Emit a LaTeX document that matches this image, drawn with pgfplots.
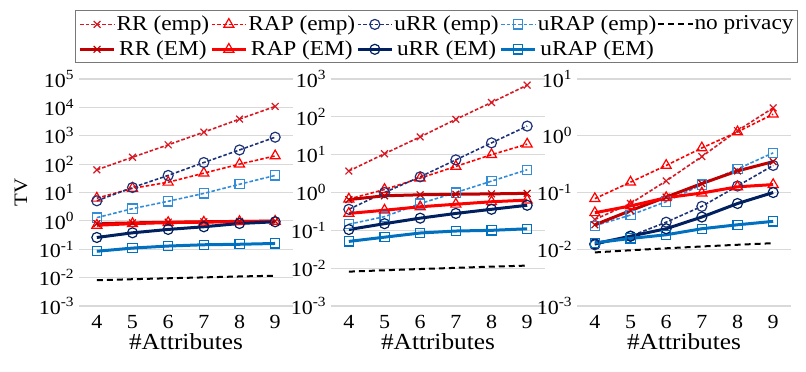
\documentclass[border=0pt]{standalone}
\usepackage{fontspec}
\setmainfont{Liberation Serif}[FakeStretch=1.1]
\usepackage{pgfplots}
\usepackage{pgfplotstable}
\pgfplotsset{compat=1.18}

\definecolor{rrEmp}{RGB}{215,25,35}
\definecolor{rrEM}{RGB}{192,0,0}
\definecolor{rapC}{RGB}{255,0,0}
\definecolor{urrEmp}{RGB}{30,50,120}
\definecolor{urrEM}{RGB}{0,32,96}
\definecolor{urapEmp}{RGB}{50,140,215}
\definecolor{urapEM}{RGB}{0,112,192}
\definecolor{gridgray}{RGB}{217,217,217}
\definecolor{leggray}{RGB}{120,120,120}

\newcommand{\lf}{\fontsize{10.6}{13}\selectfont}

\pgfplotstableread{
x rremp rapemp urremp urapemp np rrem rapem urrem urapem
4 63 6.3 5.1 1.3 0.0081 0.80 0.70 0.26 0.085
5 175 14 15 2.7 0.0088 0.85 0.80 0.38 0.110
6 480 23 40 4.9 0.0095 0.90 0.87 0.50 0.130
7 1340 48 114 9.3 0.0102 0.93 0.90 0.62 0.144
8 3870 100 316 19.5 0.0110 0.96 0.95 0.81 0.150
9 10800 195 890 40 0.0117 0.98 0.97 0.93 0.160
}\dataA

\pgfplotstableread{
x rremp rapemp urremp urapemp np rrem rapem urrem urapem
4 3.7 0.67 0.36 0.145 0.0081 0.65 0.28 0.105 0.051
5 10.6 1.2 1.0 0.23 0.0088 0.82 0.34 0.15 0.066
6 29.5 2.4 2.6 0.51 0.0095 0.87 0.42 0.21 0.085
7 86 4.9 7.3 1.0 0.0102 0.90 0.49 0.28 0.096
8 240 10 20.5 2.0 0.0110 0.92 0.57 0.36 0.100
9 690 19 57 4.0 0.0117 0.95 0.63 0.46 0.110
}\dataB

\pgfplotstableread{
x rremp rapemp urremp urapemp np rrem rapem urrem urapem
4 0.0335 0.078 0.012 0.026 0.0088 0.027 0.044 0.0125 0.013
5 0.064 0.152 0.017 0.040 0.0096 0.048 0.058 0.017 0.0155
6 0.16 0.30 0.030 0.069 0.0104 0.083 0.081 0.023 0.018
7 0.43 0.61 0.057 0.138 0.0112 0.144 0.098 0.037 0.023
8 1.23 1.17 0.13 0.26 0.0120 0.24 0.126 0.064 0.027
9 3.1 2.4 0.30 0.50 0.0128 0.35 0.138 0.10 0.031
}\dataC

\pgfplotsset{
  every axis/.append style={
    scale only axis, width=107pt, height=113.5pt,
    xmin=3.5, xmax=9.5, xtick={4,5,6,7,8,9},
    axis line style={draw=none}, major tick length=0pt, minor tick length=0pt,
    ymajorgrids, yminorgrids=false, xmajorgrids=false,
    major grid style={draw=gridgray, line width=0.6pt},
    tick label style={font=\fontsize{10}{12}\selectfont},
    xticklabel={\pgfmathprintnumber[assume math mode=true]{\tick}},
    xticklabel style={anchor=center, yshift=-8pt},
    yticklabel={\pgfmathtruncatemacro{\ex}{round(\tick/2.302585093)}10\textsuperscript{\ex}},
    yticklabel style={anchor=east, inner sep=0pt, xshift=-2pt},
    xlabel={\#Attributes},
    xlabel style={font=\fontsize{11.5}{13}\selectfont, at={(axis description cs:0.5,0)}, anchor=center, yshift=-18pt},
    clip=false,
  },
  sRRemp/.style={color=rrEmp, dash pattern=on 1.8pt off 1pt, line width=0.8pt, mark=x, mark size=2.4pt, mark options={solid, line width=0.6pt}},
  sRAPemp/.style={color=rapC, dash pattern=on 1.8pt off 1pt, line width=0.8pt, mark=triangle, mark size=2.9pt, mark options={solid, line width=0.6pt}},
  sURRemp/.style={color=urrEmp, dash pattern=on 1.8pt off 1pt, line width=0.8pt, mark=o, mark size=2.5pt, mark options={solid, line width=0.6pt}},
  sURAPemp/.style={color=urapEmp, dash pattern=on 1.8pt off 1pt, line width=0.8pt, mark=square, mark size=2.3pt, mark options={solid, line width=0.6pt}},
  sNP/.style={color=black, dash pattern=on 3pt off 2pt, line width=1pt, no marks},
  sRREM/.style={color=rrEM, solid, line width=1.5pt, mark=x, mark size=2.4pt, mark options={solid, line width=0.6pt}},
  sRAPEM/.style={color=rapC, solid, line width=1.5pt, mark=triangle, mark size=2.9pt, mark options={solid, line width=0.6pt}},
  sURREM/.style={color=urrEM, solid, line width=1.5pt, mark=o, mark size=2.5pt, mark options={solid, line width=0.6pt}},
  sURAPEM/.style={color=urapEM, solid, line width=1.5pt, mark=square, mark size=2.3pt, mark options={solid, line width=0.6pt}},
}

\newcommand{\allplots}[1]{%
  \addplot[sRRemp] table[x=x,y=rremp]{#1};
  \addplot[sRAPemp] table[x=x,y=rapemp]{#1};
  \addplot[sURRemp] table[x=x,y=urremp]{#1};
  \addplot[sURAPemp] table[x=x,y=urapemp]{#1};
  \addplot[sNP] table[x=x,y=np]{#1};
  \addplot[sRREM] table[x=x,y=rrem]{#1};
  \addplot[sRAPEM] table[x=x,y=rapem]{#1};
  \addplot[sURREM] table[x=x,y=urrem]{#1};
  \addplot[sURAPEM] table[x=x,y=urapem]{#1};
}

\begin{document}
\begin{tikzpicture}
\useasboundingbox (0,0) rectangle (403pt,-185.5pt);
\begin{semilogyaxis}[at={(39.5pt,-39.5pt)}, anchor=north west,
  ymin=1e-3, ymax=1e5, ytick={1e-3,1e-2,1e-1,1,10,100,1000,1e4,1e5},
  ylabel={TV}, ylabel style={font=\fontsize{9.5}{11}\selectfont, at={(axis description cs:0,0.5)}, anchor=center, xshift=0pt, yshift=29pt},
  legend columns=5,
  legend style={at={(axis description cs:-0.0187,1.302)}, anchor=north west,
    draw=leggray, line width=0.5pt, fill=white, inner xsep=1.5pt, inner ysep=0.5pt,
    font=\lf,
    nodes={inner xsep=0.5pt, inner ysep=1.8pt},
    /tikz/every even column/.append style={column sep=0pt}},
  legend entries={RR (emp),RAP (emp),uRR (emp),uRAP (emp),no privacy,RR (EM),RAP (EM),uRR (EM),uRAP (EM)},
]
\allplots{\dataA}
\end{semilogyaxis}
\begin{semilogyaxis}[at={(165.5pt,-39.5pt)}, anchor=north west,
  ymin=1e-3, ymax=1e3, ytick={1e-3,1e-2,1e-1,1,10,100,1000}]
\allplots{\dataB}
\end{semilogyaxis}
\begin{semilogyaxis}[at={(288.5pt,-39.5pt)}, anchor=north west,
  ymin=1e-3, ymax=1e1, ytick={1e-3,1e-2,1e-1,1,10}]
\allplots{\dataC}
\end{semilogyaxis}
\end{tikzpicture}
\end{document}
